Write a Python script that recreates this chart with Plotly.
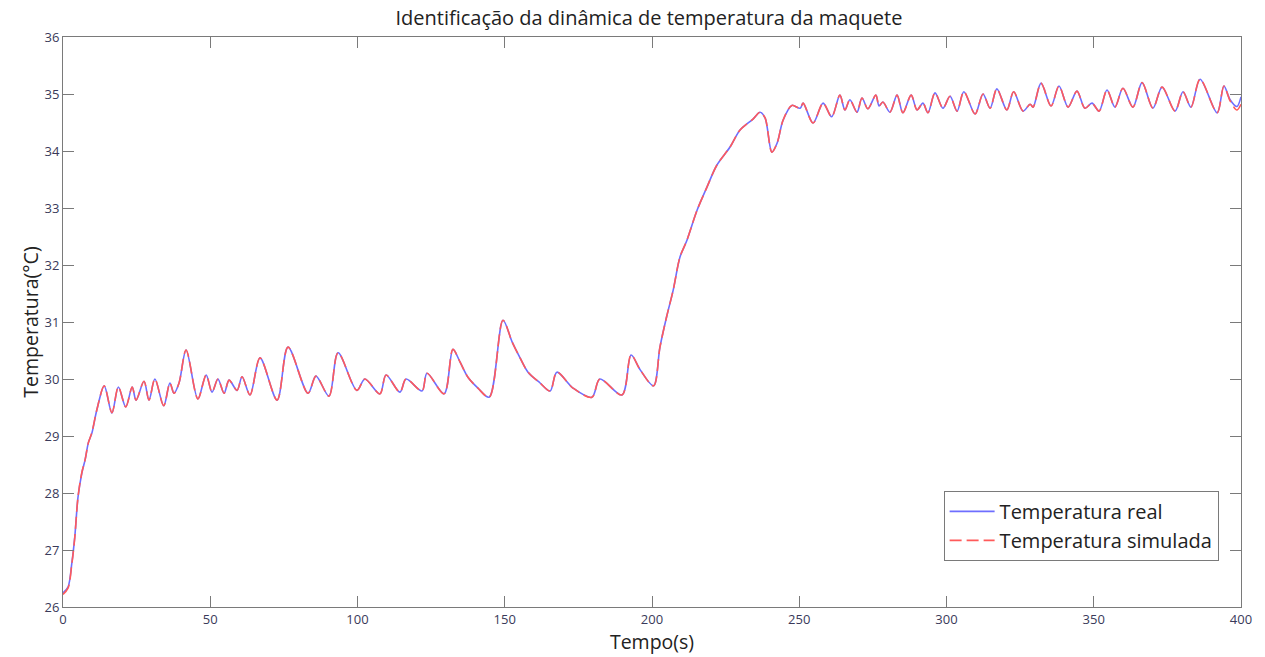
import plotly.graph_objects as go

# Time samples (s) read at peaks, troughs and bends of the curve
tempo = [0, 1.7, 3, 4, 5.1, 6.4, 7.5, 8.6, 9.8, 11.5, 14, 16.6, 18.8, 21.3, 23.5, 24.8,
         27.5, 29.2, 31.2, 34.2, 36.3, 37.7, 39.4, 41.8, 45.8, 48.6, 50.6, 52.6, 54.7,
         56.4, 59.1, 60.8, 63.5, 66.9, 72.7, 76.4, 83.2, 85.9, 90.3, 93.4, 99.8, 102.5,
         107.6, 109.7, 114.4, 116.5, 121.9, 123.6, 129.4, 132.4, 134.8, 137.5, 140.9,
         144.7, 149.4, 152.5, 155.2, 157.9, 162, 165.4, 167.7, 173.2, 179.6, 182.3,
         189.8, 192.9, 196, 200.5, 202.7, 205, 207.2, 209.5, 211.9, 215.3, 218.7, 222,
         226.5, 229.9, 234.3, 236.7, 238.4, 240.7, 242.5, 244.5, 247.5, 250.3, 251.3,
         254.7, 258.1, 261, 263.8, 265.5, 267.2, 269.6, 271.3, 273.3, 276, 277.1, 278.4,
         280.8, 283.2, 285.2, 288, 290, 292, 293.7, 296.1, 298.8, 301.2, 303.6, 305.9,
         309.7, 312.4, 314.8, 317.1, 320.5, 322.8, 326, 328.4, 329.4, 332.1, 335.5,
         338.2, 341.3, 344.3, 347, 349.4, 351.8, 354.5, 357.2, 359.9, 363.3, 366.4,
         370.1, 373.2, 377.6, 380.3, 383, 386.1, 391.9, 394.2, 396.3, 398.6, 400]

# Measured temperature (°C)
temp_real = [26.25, 26.35, 26.77, 27.23, 27.93, 28.35, 28.58, 28.88, 29.05, 29.46, 29.88,
             29.4, 29.86, 29.51, 29.86, 29.63, 29.96, 29.63, 30.0, 29.53, 29.93, 29.75,
             29.93, 30.51, 29.65, 30.07, 29.77, 30.0, 29.75, 29.98, 29.8, 30.04, 29.72,
             30.37, 29.63, 30.56, 29.75, 30.05, 29.7, 30.46, 29.8, 30.0, 29.74, 30.07,
             29.77, 30.0, 29.79, 30.1, 29.74, 30.52, 30.3, 30.03, 29.84, 29.68, 31.03,
             30.65, 30.37, 30.12, 29.93, 29.79, 30.12, 29.84, 29.68, 30.0, 29.72, 30.42,
             30.16, 29.88, 30.56, 31.1, 31.56, 32.14, 32.44, 32.96, 33.37, 33.75, 34.07,
             34.37, 34.56, 34.68, 34.58, 33.98, 34.14, 34.54, 34.8, 34.75, 34.84, 34.49,
             34.84, 34.6, 34.98, 34.72, 34.9, 34.68, 34.93, 34.74, 34.98, 34.79, 34.86,
             34.68, 34.98, 34.67, 34.98, 34.72, 34.84, 34.67, 35.02, 34.75, 34.96, 34.7,
             35.04, 34.65, 35.0, 34.75, 35.09, 34.72, 35.04, 34.7, 34.82, 34.77, 35.19,
             34.79, 35.14, 34.77, 35.05, 34.75, 34.84, 34.7, 35.07, 34.77, 35.1, 34.77,
             35.2, 34.75, 35.12, 34.7, 35.04, 34.77, 35.26, 34.67, 35.14, 34.9, 34.78, 34.95]

# Simulated temperature (°C)
temp_sim = [26.22, 26.33, 26.75, 27.22, 27.93, 28.36, 28.58, 28.88, 29.06, 29.46, 29.88,
            29.41, 29.86, 29.51, 29.86, 29.63, 29.96, 29.63, 30.0, 29.53, 29.93, 29.75,
            29.93, 30.51, 29.65, 30.07, 29.77, 30.0, 29.75, 29.98, 29.8, 30.04, 29.72,
            30.37, 29.63, 30.56, 29.75, 30.05, 29.7, 30.46, 29.8, 30.0, 29.74, 30.07,
            29.77, 30.0, 29.79, 30.1, 29.74, 30.52, 30.3, 30.03, 29.84, 29.68, 31.03,
            30.65, 30.37, 30.12, 29.93, 29.79, 30.12, 29.84, 29.68, 30.0, 29.72, 30.42,
            30.16, 29.88, 30.56, 31.1, 31.56, 32.14, 32.44, 32.96, 33.37, 33.75, 34.07,
            34.37, 34.56, 34.68, 34.58, 33.98, 34.14, 34.54, 34.8, 34.75, 34.84, 34.49,
            34.84, 34.6, 34.98, 34.72, 34.9, 34.68, 34.93, 34.74, 34.98, 34.79, 34.86,
            34.68, 34.98, 34.67, 34.98, 34.72, 34.84, 34.67, 35.02, 34.75, 34.96, 34.7,
            35.04, 34.65, 35.0, 34.75, 35.09, 34.72, 35.04, 34.7, 34.82, 34.77, 35.19,
            34.79, 35.14, 34.77, 35.05, 34.75, 34.84, 34.7, 35.07, 34.77, 35.1, 34.77,
            35.2, 34.75, 35.12, 34.7, 35.04, 34.77, 35.26, 34.67, 35.14, 34.88, 34.72, 34.82]

x_ticks = [0, 50, 100, 150, 200, 250, 300, 350, 400]
y_ticks = [26, 27, 28, 29, 30, 31, 32, 33, 34, 35, 36]

FONT = "Open Sans, Liberation Sans, Arial, sans-serif"

fig = go.Figure()
fig.add_trace(go.Scatter(
    x=tempo, y=temp_real, mode="lines", name="Temperatura real",
    line=dict(color="rgb(110,110,255)", width=1.6, shape="spline", smoothing=0.9)))
fig.add_trace(go.Scatter(
    x=tempo, y=temp_sim, mode="lines", name="Temperatura simulada",
    line=dict(color="rgb(255,90,90)", width=1.6, dash="12px,5px", shape="spline", smoothing=0.9)))

axis_common = dict(
    showline=True, linecolor="#7a7a7a", linewidth=1, mirror="ticks",
    ticks="inside", ticklen=11, tickcolor="#7a7a7a", tickwidth=1,
    showgrid=False, zeroline=False,
    tickfont=dict(family=FONT, size=13, color="#3a3a5a"),
)

fig.update_layout(
    width=1265, height=657,
    margin=dict(l=63, r=24, t=37, b=50),
    paper_bgcolor="white", plot_bgcolor="white",
    title=dict(text="Identificação da dinâmica de temperatura da maquete",
               x=0.513, xanchor="center", y=0.972, yanchor="middle",
               font=dict(family=FONT, size=20, color="#222222")),
    xaxis=dict(range=[0, 400], tickvals=x_ticks,
               title=dict(text="Tempo(s)", font=dict(family=FONT, size=19.5, color="#222222"), standoff=4),
               **axis_common),
    yaxis=dict(range=[26, 36], tickvals=y_ticks,
               title=dict(text="Temperatura(°C)", font=dict(family=FONT, size=19.5, color="#222222"), standoff=0),
               **axis_common),
    legend=dict(x=0.981, xanchor="right", y=0.081, yanchor="bottom",
                bgcolor="white", bordercolor="#7a7a7a", borderwidth=1,
                font=dict(family=FONT, size=20, color="#222222"),
                itemwidth=45, tracegroupgap=0),
    showlegend=True,
)

fig.write_html("out.html")
